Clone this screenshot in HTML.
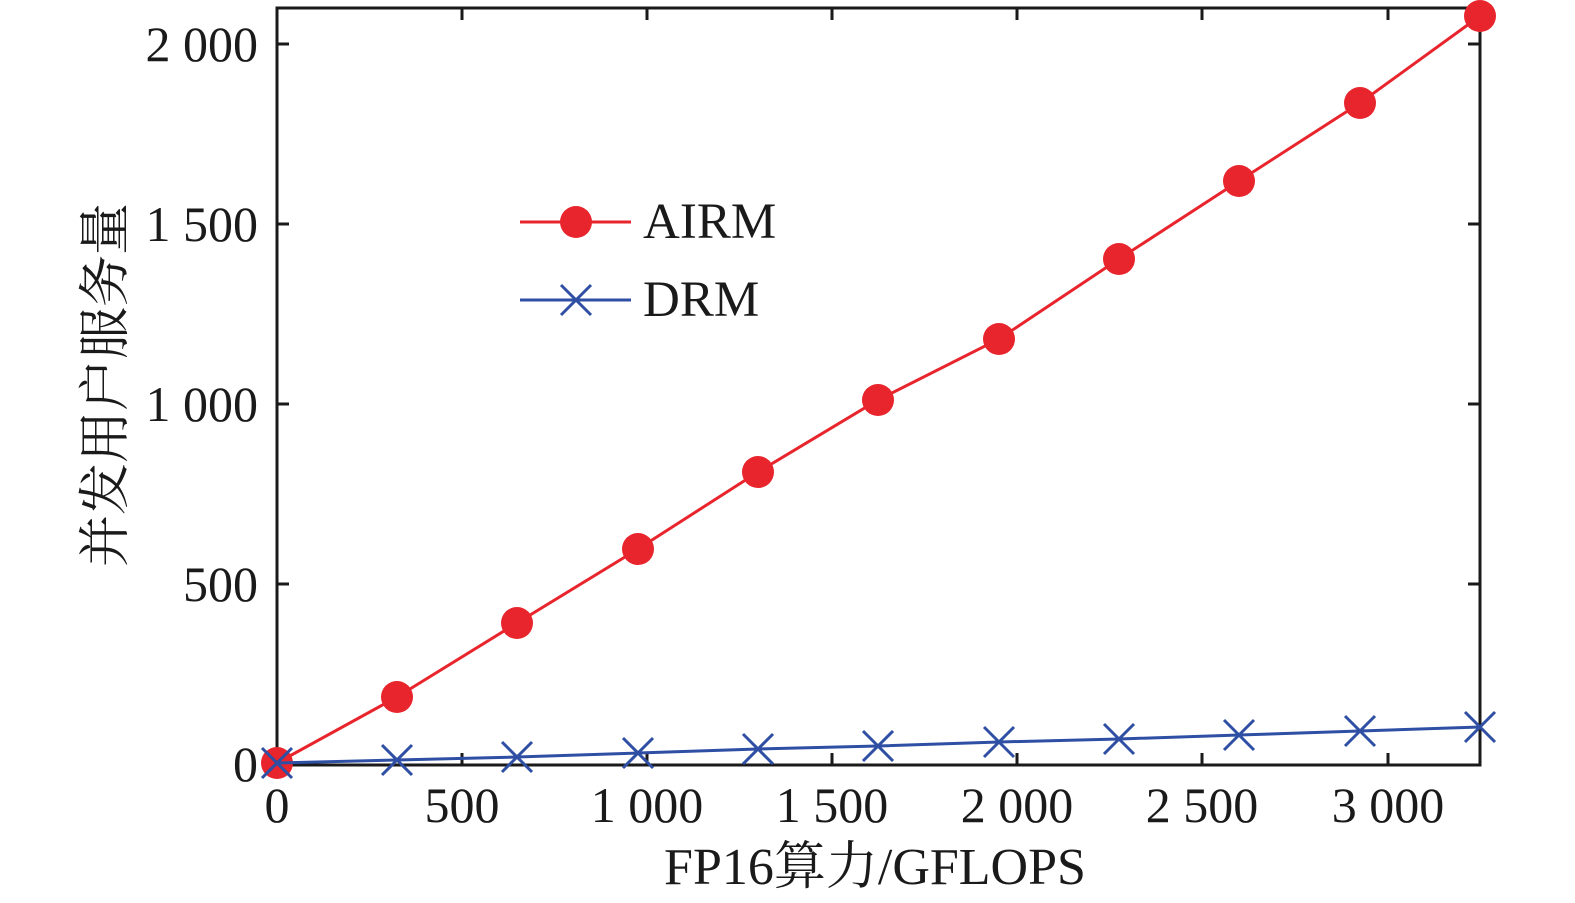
<!DOCTYPE html>
<html><head><meta charset="utf-8"><style>
html,body{margin:0;padding:0;background:#fff;}
svg{display:block;}
text{font-family:"Liberation Serif","Noto Serif CJK SC",serif;fill:#1a1a1a;}
</style></head><body>
<svg width="1575" height="903" viewBox="0 0 1575 903" xmlns="http://www.w3.org/2000/svg">
<g stroke="#1a1a1a" stroke-width="3" fill="none">
<rect x="277" y="8" width="1203" height="757"/>
<path d="M462 765v-12M647 765v-12M832 765v-12M1017 765v-12M1202 765v-12M1388 765v-12
M462 8v12M647 8v12M832 8v12M1017 8v12M1202 8v12M1388 8v12"/>
<path d="M277 584h12M277 404h12M277 224h12M277 44h12
M1480 584h-12M1480 404h-12M1480 224h-12M1480 44h-12"/>
</g>
<g font-size="50" text-anchor="middle">
<text x="277" y="822">0</text>
<text x="462" y="822">500</text>
<text x="647" y="822">1 000</text>
<text x="832" y="822">1 500</text>
<text x="1017" y="822">2 000</text>
<text x="1202" y="822">2 500</text>
<text x="1388" y="822">3 000</text>
</g>
<g font-size="50" text-anchor="end">
<text x="258" y="781">0</text>
<text x="258" y="601">500</text>
<text x="258" y="421">1 000</text>
<text x="258" y="241">1 500</text>
<text x="258" y="61">2 000</text>
</g>
<text x="875" y="884" font-size="52" text-anchor="middle">FP16算力/GFLOPS</text>
<text transform="translate(123,385) rotate(-90)" font-size="52" text-anchor="middle">并发用户服务量</text>
<polyline fill="none" stroke="#e8242c" stroke-width="3" points="277,763 397,697 517,623 638,549 758,472 878,400 999,339 1119,259 1239,181 1360,103 1480,16"/>
<g fill="#e8242c">
<circle cx="277" cy="763" r="16"/><circle cx="397" cy="697" r="16"/><circle cx="517" cy="623" r="16"/><circle cx="638" cy="549" r="16"/><circle cx="758" cy="472" r="16"/><circle cx="878" cy="400" r="16"/><circle cx="999" cy="339" r="16"/><circle cx="1119" cy="259" r="16"/><circle cx="1239" cy="181" r="16"/><circle cx="1360" cy="103" r="16"/><circle cx="1480" cy="16" r="16"/>
</g>
<polyline fill="none" stroke="#2e4fa3" stroke-width="3" points="277,763 397,760 517,757 638,753 758,749 878,746 999,742 1119,739 1239,735 1360,731 1480,727"/>
<g stroke="#2e4fa3" stroke-width="3" fill="none">
<path d="M262 748l30 30M262 778l30-30 M382 745l30 30M382 775l30-30 M502 742l30 30M502 772l30-30 M623 738l30 30M623 768l30-30 M743 734l30 30M743 764l30-30 M863 731l30 30M863 761l30-30 M984 727l30 30M984 757l30-30 M1104 724l30 30M1104 754l30-30 M1224 720l30 30M1224 750l30-30 M1345 716l30 30M1345 746l30-30 M1465 712l30 30M1465 742l30-30"/>
</g>
<line x1="520" y1="222" x2="631" y2="222" stroke="#e8242c" stroke-width="3"/>
<circle cx="576" cy="222" r="16" fill="#e8242c"/>
<line x1="520" y1="300" x2="631" y2="300" stroke="#2e4fa3" stroke-width="3"/>
<path d="M561 285l30 30M561 315l30-30" stroke="#2e4fa3" stroke-width="3"/>
<text x="643" y="238" font-size="51">AIRM</text>
<text x="643" y="316" font-size="51">DRM</text>
</svg>
</body></html>
